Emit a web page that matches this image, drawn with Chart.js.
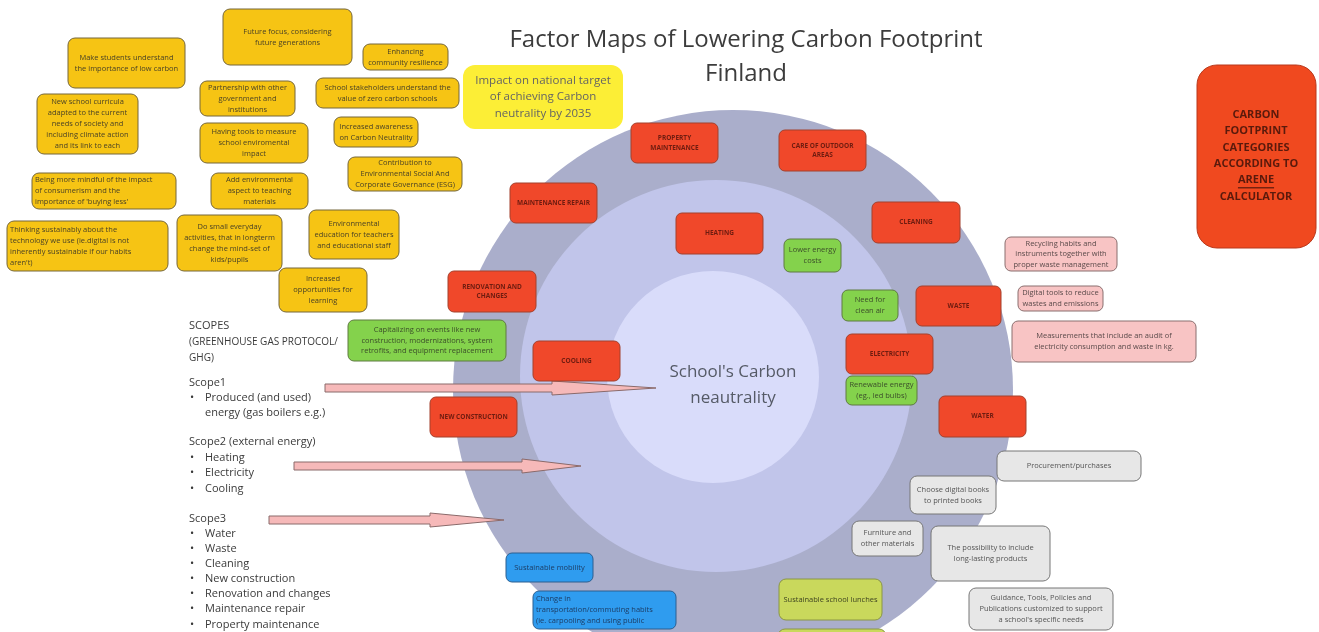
<!DOCTYPE html>
<html lang="en">
<head>
<meta charset="UTF-8">
<title>Factor Maps of Lowering Carbon Footprint Finland</title>
<script src="https://cdn.jsdelivr.net/npm/chart.js"></script>
<style>
  html, body { margin: 0; padding: 0; background: #fff; }
  #wrap { width: 1319px; height: 632px; position: relative; }
</style>
</head>
<body>
<div id="wrap"><canvas id="map"></canvas></div>
<script>
// title and centre label
const titleLines = ['Factor Maps of Lowering Carbon Footprint', 'Finland'];
const centreLines = ["School's Carbon", 'neautrality'];

// the three rings (outer, middle, inner) in picture pixels
const ringX = [733, 716, 713];
const ringY = [390, 376, 377];
const ringR = [280, 196, 106];

// ARENE carbon footprint categories (red boxes)
const categories = ['PROPERTY\nMAINTENANCE', 'CARE OF OUTDOOR\nAREAS', 'MAINTENANCE REPAIR', 'CLEANING',
  'HEATING', 'RENOVATION AND\nCHANGES', 'WASTE', 'ELECTRICITY', 'COOLING', 'NEW CONSTRUCTION', 'WATER'];

// yellow factor notes
const factors = ['Make students understand\nthe importance of low carbon', 'Future focus, considering\nfuture generations',
  'Enhancing\ncommunity resilience', 'New school curricula\nadapted to the current\nneeds of society and\nincluding climate action\nand its link to each',
  'Partnership with other\ngovernment and\ninstitutions', 'School stakeholders understand the\nvalue of zero carbon schools',
  'Having tools to measure\nschool enviromental\nimpact', 'Increased awareness\non Carbon Neutrality',
  'Contribution to\nEnvironmental Social And\nCorporate Governance (ESG)',
  "Being more mindful of the impact\nof consumerism and the\nimportance of 'buying less'",
  'Add environmental\naspect to teaching\nmaterials',
  "Thinking sustainably about the\ntechnology we use (ie.digital is not\ninherently sustainable if our habits\naren't)",
  'Do small everyday\nactivities, that in longterm\nchange the mind-set of\nkids/pupils',
  'Environmental\neducation for teachers\nand educational staff', 'Increased\nopportunities for\nlearning'];

const energyNotes = ['Lower energy\ncosts', 'Need for\nclean air',
  'Capitalizing on events like new\nconstruction, modernizations, system\nretrofits, and equipment replacement',
  'Renewable energy\n(eg., led bulbs)'];
const wasteNotes = ['Recycling habits and\ninstruments together with\nproper waste management',
  'Digital tools to reduce\nwastes and emissions',
  'Measurements that include an audit of\nelectricity consumption and waste in kg.'];
const procurementNotes = ['Procurement/purchases', 'Choose digital books\nto printed books', 'Furniture and\nother materials',
  'The possibility to include\nlong-lasting products',
  "Guidance, Tools, Policies and\nPublications customized to support\na school's specific needs"];
const mobilityNotes = ['Sustainable mobility', 'Change in\ntransportation/commuting habits\n(ie. carpooling and using public'];
const lunchNotes = ['Sustainable school lunches', ''];
const targetNote = 'Impact on national target\nof achieving Carbon\nneutrality by 2035';
const areneNote = ['CARBON', 'FOOTPRINT', 'CATEGORIES', 'ACCORDING TO', 'ARENE', 'CALCULATOR'];

// GHG scopes text on the left
const scopeLines = [
  ['SCOPES', 0], ['(GREENHOUSE GAS PROTOCOL/', 0], ['GHG)', 0],
  ['Scope1', 0], ['Produced (and used)', 1], ['energy (gas boilers e.g.)', 2],
  ['Scope2 (external energy)', 0], ['Heating', 1], ['Electricity', 1], ['Cooling', 1],
  ['Scope3', 0], ['Water', 1], ['Waste', 1], ['Cleaning', 1], ['New construction', 1],
  ['Renovation and changes', 1], ['Maintenance repair', 1], ['Property maintenance', 1]];

// ---- layout (x, y, w, h) ----
const categoryBoxes = [[631,123,87,40],[779,130,87,41],[510,183,87,40],[872,202,88,41],[676,213,87,41],
  [448,271,88,41],[916,286,85,40],[846,334,87,40],[533,341,87,40],[430,397,87,40],[939,396,87,41]];
const factorBoxes = [[68,38,117,50],[223,9,129,56],[363,44,85,26],[37,94,101,60],[200,81,95,35],[316,78,143,30],
  [200,123,108,40],[334,117,84,30],[348,157,114,34],[32,173,144,36],[211,173,97,36],[7,221,161,50],
  [177,215,105,56],[309,210,90,49],[279,268,88,44]];
const factorAlign = ['c','c','c','c','c','c','c','c','c','l','c','l','c','c','c'];
const energyBoxes = [[784,239,57,33],[842,290,56,31],[348,320,158,41],[846,376,71,29]];
const wasteBoxes = [[1005,237,112,34],[1018,286,85,25],[1012,321,184,41]];
const procurementBoxes = [[997,451,144,30],[910,476,86,38],[852,521,71,35],[931,526,119,55],[969,588,144,42]];
const mobilityBoxes = [[506,553,87,29],[533,591,143,38]];
const lunchBoxes = [[779,579,103,41],[778,629,108,20]];
const scopeY = [326,342,358,383,398,413,442,458,473,489,519,534,549,564,579,594,609,625];
// arrows: start x, head start x, tip x, y
const arrows = [[325,552,656,388],[294,522,581,466],[269,430,504,520]];

const styles = {
  red:    { fill: '#f0482a', stroke: '#a3402c', text: '#6e1c10', font: 'bold 6.5px "Open Sans"', lh: 9.5 },
  yellow: { fill: '#f6c414', stroke: '#75663a', text: '#4a4226', font: '7.5px "Open Sans"', lh: 11 },
  green:  { fill: '#84d24c', stroke: '#5e7a40', text: '#3b4d2a', font: '7.5px "Open Sans"', lh: 10.5 },
  pink:   { fill: '#f8c4c4', stroke: '#8a6e6e', text: '#5a4a4a', font: '7.5px "Open Sans"', lh: 10.5 },
  grey:   { fill: '#e7e7e7', stroke: '#777777', text: '#555555', font: '7.5px "Open Sans"', lh: 11 },
  blue:   { fill: '#2f9cef', stroke: '#2c5f90', text: '#1c3d66', font: '7.5px "Open Sans"', lh: 11 },
  lime:   { fill: '#c9d85c', stroke: '#8a9645', text: '#3d4220', font: '7.5px "Open Sans"', lh: 11 }
};

function drawBox(ctx, sx, sy, box, text, st, align, radius) {
  const x = sx.getPixelForValue(box[0]), y = sy.getPixelForValue(box[1]);
  const w = sx.getPixelForValue(box[0] + box[2]) - x, h = sy.getPixelForValue(box[1] + box[3]) - y;
  ctx.beginPath();
  ctx.roundRect(x, y, w, h, radius || 6);
  ctx.fillStyle = st.fill;
  ctx.fill();
  if (st.stroke) { ctx.lineWidth = 1; ctx.strokeStyle = st.stroke; ctx.stroke(); }
  if (!text) return;
  const lines = text.split('\n');
  ctx.font = st.font;
  ctx.fillStyle = st.text;
  ctx.textBaseline = 'middle';
  ctx.textAlign = align === 'l' ? 'left' : 'center';
  const tx = align === 'l' ? x + 3 : x + w / 2;
  const y0 = y + h / 2 - (lines.length - 1) * st.lh / 2;
  lines.forEach((l, i) => ctx.fillText(l, tx, y0 + i * st.lh));
}

const diagramPlugin = {
  id: 'diagram',
  afterDatasetsDraw(chart) {
    const ctx = chart.ctx, sx = chart.scales.x, sy = chart.scales.y;
    ctx.save();

    // title
    ctx.fillStyle = '#3c3c3c';
    ctx.font = '24px "Open Sans"';
    ctx.textAlign = 'center';
    ctx.textBaseline = 'middle';
    ctx.fillText(titleLines[0], sx.getPixelForValue(746), sy.getPixelForValue(40));
    ctx.fillText(titleLines[1], sx.getPixelForValue(746), sy.getPixelForValue(74));

    // centre label
    ctx.fillStyle = '#555a66';
    ctx.font = '17px "Open Sans"';
    ctx.fillText(centreLines[0], sx.getPixelForValue(733), sy.getPixelForValue(372));
    ctx.fillText(centreLines[1], sx.getPixelForValue(733), sy.getPixelForValue(398));

    // scope arrows
    arrows.forEach(a => {
      const x0 = sx.getPixelForValue(a[0]), xh = sx.getPixelForValue(a[1]), xt = sx.getPixelForValue(a[2]);
      const y = sy.getPixelForValue(a[3]);
      ctx.beginPath();
      ctx.moveTo(x0, y - 4);
      ctx.lineTo(xh, y - 4);
      ctx.lineTo(xh, y - 7);
      ctx.lineTo(xt, y);
      ctx.lineTo(xh, y + 7);
      ctx.lineTo(xh, y + 4);
      ctx.lineTo(x0, y + 4);
      ctx.closePath();
      ctx.fillStyle = '#f6b9b9';
      ctx.fill();
      ctx.strokeStyle = '#8a6a6a';
      ctx.lineWidth = 1;
      ctx.stroke();
    });

    // notes
    categories.forEach((t, i) => drawBox(ctx, sx, sy, categoryBoxes[i], t, styles.red, 'c', 6));
    factors.forEach((t, i) => drawBox(ctx, sx, sy, factorBoxes[i], t, styles.yellow, factorAlign[i], 7));
    energyNotes.forEach((t, i) => drawBox(ctx, sx, sy, energyBoxes[i], t, styles.green, 'c', 6));
    wasteNotes.forEach((t, i) => drawBox(ctx, sx, sy, wasteBoxes[i], t, styles.pink, 'c', 6));
    procurementNotes.forEach((t, i) => drawBox(ctx, sx, sy, procurementBoxes[i], t, styles.grey, 'c', 7));
    mobilityNotes.forEach((t, i) => drawBox(ctx, sx, sy, mobilityBoxes[i], t, styles.blue, i === 1 ? 'l' : 'c', 6));
    lunchNotes.forEach((t, i) => drawBox(ctx, sx, sy, lunchBoxes[i], t, styles.lime, 'c', 7));

    // national target note
    drawBox(ctx, sx, sy, [463, 65, 160, 64], targetNote,
      { fill: '#fcee36', stroke: null, text: '#646464', font: '11.5px "Open Sans"', lh: 16.5 }, 'c', 12);

    // ARENE box
    drawBox(ctx, sx, sy, [1197, 65, 119, 183], '',
      { fill: '#f0491f', stroke: '#b8391c' }, 'c', 20);
    ctx.font = 'bold 11px "Open Sans"';
    ctx.fillStyle = '#5a1a0c';
    ctx.textAlign = 'center';
    areneNote.forEach((l, i) => {
      const px = sx.getPixelForValue(1256), py = sy.getPixelForValue(115 + i * 16.3);
      ctx.fillText(l, px, py);
      if (l === 'ARENE') {
        const w = ctx.measureText(l).width;
        ctx.fillRect(px - w / 2, py + 7, w, 1.2);
      }
    });

    // scopes text
    ctx.fillStyle = '#3a3a3a';
    ctx.textAlign = 'left';
    scopeLines.forEach((s, i) => {
      const y = sy.getPixelForValue(scopeY[i]);
      ctx.font = (i === 1 || i === 2) ? '10px "Open Sans"' : '11px "Open Sans"';
      if (s[1] === 1) ctx.fillText('\u2022', sx.getPixelForValue(190), y);
      ctx.fillText(s[0], sx.getPixelForValue(s[1] ? 205 : 189), y);
    });

    ctx.restore();
  }
};

const ringColours = ['#aaaecb', '#c1c5ea', '#d9dcfa'];

new Chart(document.getElementById('map'), {
  type: 'bubble',
  data: {
    datasets: ringR.map((r, i) => ({
      data: [{ x: ringX[i], y: ringY[i], r: r }],
      backgroundColor: ringColours[i],
      borderWidth: 0,
      hoverRadius: 0,
      order: 3 - i
    }))
  },
  options: {
    responsive: true,
    maintainAspectRatio: false,
    animation: false,
    events: [],
    layout: { padding: 0, autoPadding: false },
    plugins: { legend: { display: false }, tooltip: { enabled: false }, title: { display: false } },
    scales: {
      x: { type: 'linear', min: 0, max: 1319, display: false },
      y: { type: 'linear', min: 0, max: 632, reverse: true, display: false }
    }
  },
  plugins: [diagramPlugin]
});
</script>
</body>
</html>
